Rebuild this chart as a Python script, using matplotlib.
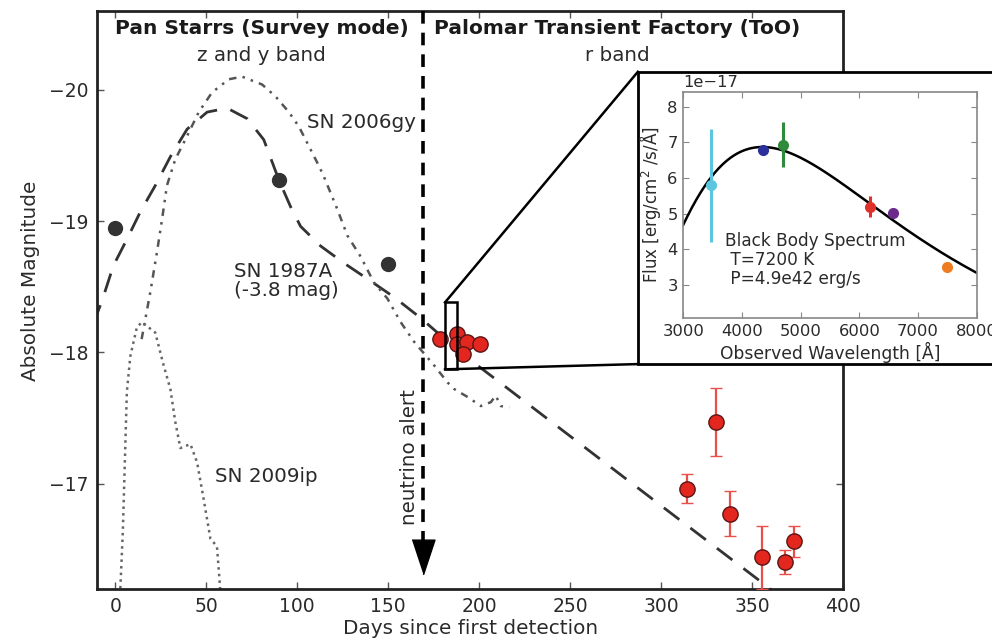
import numpy as np
import matplotlib
matplotlib.use("Agg")
import matplotlib.pyplot as plt
from matplotlib.patches import Rectangle
from matplotlib.lines import Line2D

# ---------------- light-curve data ----------------
# Pan-STARRS survey detections (z and y band)
ps_days = [0, 90, 150]
ps_mag = [-18.95, -19.31, -18.67]
ps_err = [0.04, 0.04, 0.04]

# PTF target-of-opportunity follow-up (r band)
ptf_days = [178.5, 188.0, 187.7, 193.5, 191.3, 200.5, 314.3, 330.2, 337.9, 355.5, 368.2, 373.0]
ptf_mag = [-18.10, -18.14, -18.06, -18.08, -17.99, -18.06,
           -16.96, -17.47, -16.77, -16.44, -16.40, -16.56]
ptf_err = [0.03, 0.03, 0.03, 0.03, 0.03, 0.03, 0.11, 0.26, 0.17, 0.24, 0.09, 0.12]

# Comparison templates
sn1987a_days = [-12, -7.3, -1, 6.4, 13.8, 22, 30.3, 39.5, 50.5, 61.5, 72.5, 81.6, 90,
                96.3, 101.8, 112.8, 125.6, 138.5, 153.2, 167.9, 187.7, 250, 300, 356.8, 372]
sn1987a_mag = [-18.22, -18.39, -18.66, -18.86, -19.07, -19.27, -19.49, -19.70, -19.83,
               -19.86, -19.78, -19.62, -19.31, -19.11, -18.96, -18.81, -18.68, -18.56,
               -18.42, -18.26, -18.02, -17.36, -16.83, -16.23, -16.07]

sn2006gy_days = [14.5, 16.5, 19.3, 22.9, 25.7, 28.4, 33, 38.5, 45.9, 53.2, 62.4, 69.7,
                 80.7, 88, 95.4, 100.9, 106.4, 111.9, 114.6, 122, 127.5, 134.8, 142.2,
                 149.5, 156.8, 164.2, 175.2, 182.6, 186.2, 193.5, 200.9, 206.4, 209,
                 211.9, 216.5]
sn2006gy_mag = [-18.10, -18.25, -18.46, -18.76, -19.01, -19.27, -19.47, -19.62, -19.83,
                -19.98, -20.08, -20.10, -20.04, -19.95, -19.83, -19.72, -19.57, -19.42,
                -19.34, -19.09, -18.89, -18.73, -18.53, -18.41, -18.23, -18.08, -17.90,
                -17.77, -17.72, -17.66, -17.59, -17.62, -17.67, -17.59, -17.58]

sn2009ip_days = [2.5, 4.2, 5.5, 6.4, 8.3, 11.9, 14.7, 18.3, 22, 26.6, 30.3, 33, 35.8,
                 41.3, 45, 48.6, 52.3, 55.9, 58.2]
sn2009ip_mag = [-16.10, -16.64, -17.27, -17.70, -17.97, -18.19, -18.23, -18.19, -18.15,
                -17.90, -17.72, -17.47, -17.27, -17.30, -17.16, -16.88, -16.58, -16.52,
                -16.10]

alert_day = 169

# ---------------- SED data ----------------
sed_wave = [3467, 4352, 4704, 6181, 6578, 7497]
sed_flux = [5.80, 6.79, 6.93, 5.20, 5.01, 3.51]      # units of 1e-17
sed_err = [1.58, 0.05, 0.63, 0.30, 0.08, 0.05]
sed_colors = ['#5cc6de', '#2b309a', '#2f8a3c', '#e0302a', '#6c2b8c', '#ee7d22']

bb_temp = 7200.0        # K
bb_redshift = 0.08
bb_peak_flux = 6.87     # units of 1e-17

# ---------------- figure ----------------
plt.rcParams['font.family'] = ['DejaVu Sans']
fig = plt.figure(figsize=(9.92, 6.41), dpi=100)
ax = fig.add_axes([0.0978, 0.0819, 0.7523, 0.9009])

ink = '#2a2a2a'
txt = 14.3

ax.plot(sn1987a_days, sn1987a_mag, color='#333333', lw=2.0, dashes=(7, 5), zorder=2)
ax.plot(sn2006gy_days, sn2006gy_mag, color='#555555', lw=1.8,
        dashes=(3, 2.5, 1, 2.5, 1, 2.5), zorder=2)
ax.plot(sn2009ip_days, sn2009ip_mag, color='#666666', lw=1.8, linestyle=':', zorder=2)

ax.errorbar(ps_days, ps_mag, yerr=ps_err, fmt='o', color='#333333', ms=10,
            mec='#333333', ecolor='#888888', capsize=0, zorder=5)
ax.errorbar(ptf_days, ptf_mag, yerr=ptf_err, fmt='o', ms=11, mfc='#e3271e',
            mec='#5a1515', mew=1.0, ecolor='#e8504a', elinewidth=1.6, capsize=4,
            capthick=1.6, zorder=5)

# neutrino alert marker
ax.plot([alert_day, alert_day], [-20.6, -16.55], color='black', lw=2.6,
        dashes=(3.5, 2.5), zorder=4)
head = [(-0.33, 0.5), (0.33, 0.5), (0.0, -0.5)]
ax.plot([alert_day], [-16.44], marker=head, ms=25, color='black', mec='black',
        zorder=4)
ax.text(alert_day - 7.5, -17.2, 'neutrino alert', rotation=90, ha='center',
        va='center', fontsize=txt, color=ink)

ax.set_xlim(-10, 400)
ax.set_ylim(-16.2, -20.6)
ax.set_xticks([0, 50, 100, 150, 200, 250, 300, 350, 400])
ax.set_yticks([-20, -19, -18, -17])
ax.set_yticklabels(['\u221220', '\u221219', '\u221218', '\u221217'])
ax.tick_params(direction='in', top=True, right=True, length=5, width=1,
               color='#555555', labelsize=13.5, labelcolor=ink, pad=6)
for s in ax.spines.values():
    s.set_linewidth(2.0)
    s.set_color('#222222')
ax.set_xlabel('Days since first detection', fontsize=14.4, color=ink, labelpad=2)
ax.set_ylabel('Absolute Magnitude', fontsize=14.4, color=ink)
ax.yaxis.set_label_coords(-0.077, 0.532)

# section headings
ax.text(80.4, -20.47, 'Pan Starrs (Survey mode)', ha='center', va='center',
        fontsize=14.5, fontweight='bold', color='#1a1a1a')
ax.text(80.4, -20.26, 'z and y band', ha='center', va='center', fontsize=txt,
        color=ink)
ax.text(275.7, -20.47, 'Palomar Transient Factory (ToO)', ha='center', va='center',
        fontsize=14.5, fontweight='bold', color='#1a1a1a')
ax.text(275.7, -20.26, 'r band', ha='center', va='center', fontsize=txt, color=ink)

ax.text(105.5, -19.75, 'SN 2006gy', ha='left', va='center', fontsize=txt, color=ink)
ax.text(65.1, -18.54, 'SN 1987A\n(-3.8 mag)', ha='left', va='center', fontsize=txt,
        color=ink, linespacing=1.0)
ax.text(55, -17.05, 'SN 2009ip', ha='left', va='center', fontsize=txt, color=ink)

# zoom box around the epoch used for the SED
zoom_x0, zoom_x1 = 181.2, 187.7
zoom_y0, zoom_y1 = -18.38, -17.87
ax.add_patch(Rectangle((zoom_x0, zoom_y0), zoom_x1 - zoom_x0, zoom_y1 - zoom_y0,
                       fill=False, ec='black', lw=1.8, zorder=6))

# white panel behind the inset
panel = Rectangle((0.643, 0.432), 0.36, 0.456, transform=fig.transFigure,
                  fc='white', ec='black', lw=2.0, zorder=10)
fig.patches.append(panel)

# connector lines from the zoom box to the panel
to_fig = fig.transFigure.inverted()
p_top = to_fig.transform(ax.transData.transform((zoom_x0, zoom_y0)))
p_bot = to_fig.transform(ax.transData.transform((zoom_x0, zoom_y1)))
for p, q in ((p_top, (0.643, 0.888)), (p_bot, (0.643, 0.432))):
    fig.lines.append(Line2D([p[0], q[0]], [p[1], q[1]], transform=fig.transFigure,
                            color='black', lw=1.8, zorder=9))

# ---------------- inset SED ----------------
ins = fig.add_axes([0.6888, 0.5034, 0.2958, 0.3536], zorder=11)
wave = np.linspace(3000, 8000, 400)
rest = wave / (1.0 + bb_redshift)
xk = 1.4388e8 / (rest * bb_temp)
planck = rest ** -5 / np.expm1(xk)
bb = planck / planck.max() * bb_peak_flux * 1e-17
ins.plot(wave, bb, color='black', lw=1.8, zorder=2)
for w, f, e, c in zip(sed_wave, sed_flux, sed_err, sed_colors):
    ins.errorbar([w], [f * 1e-17], yerr=[e * 1e-17], fmt='o', color=c, ms=7,
                 mec=c, elinewidth=2.2, capsize=0, zorder=3)

ins.set_xlim(3000, 8000)
ins.set_ylim(2.07e-17, 8.42e-17)
ins.set_xticks([3000, 4000, 5000, 6000, 7000, 8000])
ins.set_yticks([3e-17, 4e-17, 5e-17, 6e-17, 7e-17, 8e-17])
ins.tick_params(direction='in', top=True, right=True, length=4, width=0.8,
                color='#888888', labelsize=11.8, labelcolor=ink, pad=4)
ins.yaxis.get_offset_text().set_fontsize(11.8)
ins.yaxis.get_offset_text().set_color(ink)
for s in ins.spines.values():
    s.set_linewidth(1.2)
    s.set_color('#888888')
ins.set_xlabel('Observed Wavelength [\u00c5]', fontsize=12.3, color=ink, labelpad=2)
ins.set_ylabel('Flux [erg/cm$^2$ /s/\u00c5]', fontsize=12, color=ink, labelpad=3)
ins.text(3710, 3.70e-17, 'Black Body Spectrum\n T=7200 K\n P=4.9e42 erg/s',
         ha='left', va='center', fontsize=12.2, color=ink, linespacing=1.05)

fig.savefig('out.png', dpi=100)
